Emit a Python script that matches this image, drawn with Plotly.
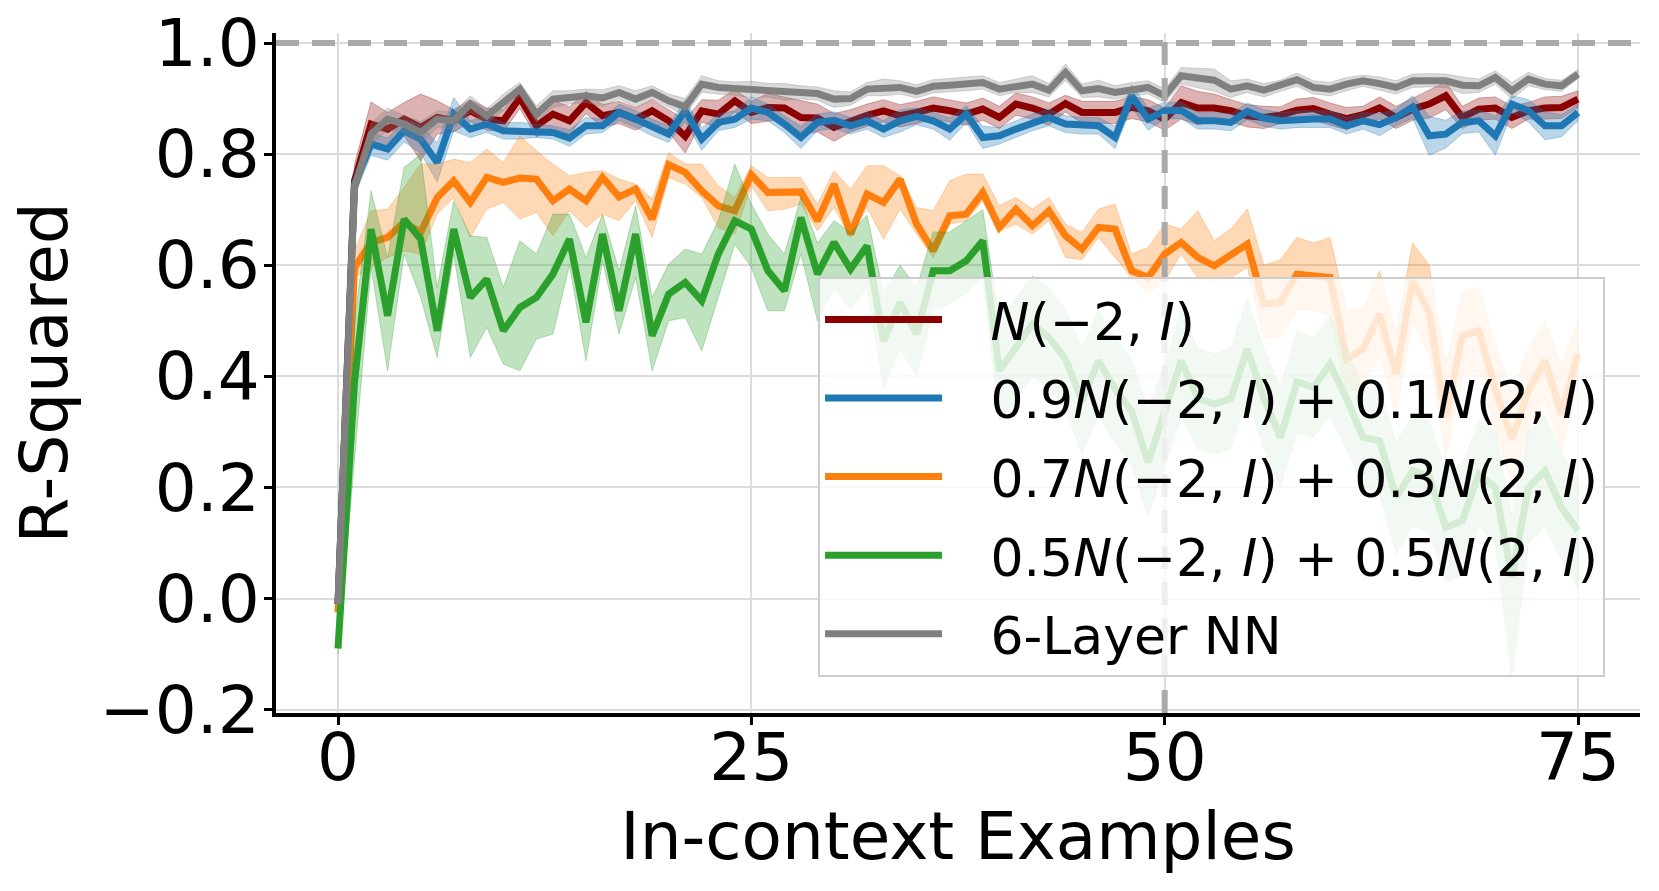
import plotly.graph_objects as go

x_vals = list(range(76))

nn_mean = [
    -0.01, 0.74, 0.836, 0.863, 0.854, 0.839, 0.863, 0.86, 0.89, 0.869,
    0.893, 0.917, 0.872, 0.899, 0.902, 0.905, 0.901, 0.911, 0.899, 0.911,
    0.896, 0.885, 0.926, 0.92, 0.918, 0.916, 0.915, 0.912, 0.911, 0.909,
    0.899, 0.9, 0.917, 0.92, 0.92, 0.913, 0.922, 0.924, 0.926, 0.929,
    0.917, 0.923, 0.926, 0.915, 0.947, 0.914, 0.918, 0.911, 0.917, 0.92,
    0.905, 0.941, 0.937, 0.933, 0.917, 0.923, 0.915, 0.923, 0.934, 0.92,
    0.917, 0.926, 0.932, 0.927, 0.92, 0.932, 0.933, 0.932, 0.924, 0.923,
    0.938, 0.914, 0.935, 0.926, 0.923, 0.944]
nn_err = [
    0.01, 0.02, 0.02, 0.02, 0.015, 0.02, 0.015, 0.015, 0.015, 0.012,
    0.015, 0.012, 0.015, 0.015, 0.012, 0.012, 0.015, 0.012, 0.015, 0.012,
    0.012, 0.015, 0.015, 0.012, 0.012, 0.015, 0.012, 0.015, 0.012, 0.012,
    0.015, 0.012, 0.012, 0.015, 0.012, 0.012, 0.012, 0.012, 0.012, 0.012,
    0.012, 0.012, 0.015, 0.012, 0.015, 0.012, 0.015, 0.012, 0.012, 0.012,
    0.012, 0.015, 0.018, 0.02, 0.015, 0.012, 0.012, 0.01, 0.012, 0.012,
    0.012, 0.012, 0.01, 0.012, 0.012, 0.012, 0.012, 0.012, 0.015, 0.012,
    0.012, 0.015, 0.012, 0.01, 0.01, 0.008]
nn_lower = [m - e for m, e in zip(nn_mean, nn_err)]
nn_upper = [m + e for m, e in zip(nn_mean, nn_err)]

g10_mean = [
    -0.01, 0.752, 0.854, 0.845, 0.863, 0.848, 0.866, 0.86, 0.878, 0.863,
    0.86, 0.902, 0.851, 0.872, 0.86, 0.893, 0.869, 0.875, 0.863, 0.878,
    0.86, 0.832, 0.878, 0.872, 0.896, 0.875, 0.884, 0.883, 0.866, 0.865,
    0.848, 0.86, 0.87, 0.878, 0.869, 0.875, 0.883, 0.878, 0.872, 0.881,
    0.866, 0.89, 0.883, 0.872, 0.891, 0.875, 0.875, 0.875, 0.884, 0.878,
    0.863, 0.893, 0.883, 0.883, 0.878, 0.869, 0.866, 0.87, 0.879, 0.882,
    0.872, 0.864, 0.871, 0.883, 0.866, 0.881, 0.89, 0.905, 0.866, 0.881,
    0.883, 0.866, 0.878, 0.883, 0.884, 0.899]
g10_err = [
    0.01, 0.03, 0.04, 0.03, 0.03, 0.06, 0.03, 0.02, 0.02, 0.02,
    0.02, 0.02, 0.02, 0.025, 0.025, 0.02, 0.02, 0.02, 0.02, 0.02,
    0.02, 0.03, 0.02, 0.025, 0.02, 0.02, 0.025, 0.02, 0.03, 0.025,
    0.025, 0.02, 0.02, 0.02, 0.02, 0.02, 0.02, 0.02, 0.02, 0.02,
    0.02, 0.02, 0.02, 0.02, 0.015, 0.02, 0.02, 0.02, 0.02, 0.02,
    0.02, 0.03, 0.03, 0.025, 0.02, 0.02, 0.02, 0.015, 0.02, 0.02,
    0.02, 0.02, 0.015, 0.02, 0.02, 0.02, 0.025, 0.025, 0.02, 0.02,
    0.02, 0.02, 0.015, 0.02, 0.02, 0.015]
g10_lower = [m - e for m, e in zip(g10_mean, g10_err)]
g10_upper = [m + e for m, e in zip(g10_mean, g10_err)]

g09_mean = [
    -0.01, 0.746, 0.818, 0.809, 0.842, 0.827, 0.785, 0.872, 0.845, 0.854,
    0.842, 0.842, 0.842, 0.839, 0.829, 0.851, 0.851, 0.875, 0.863, 0.848,
    0.836, 0.878, 0.827, 0.857, 0.863, 0.883, 0.875, 0.854, 0.83, 0.857,
    0.861, 0.851, 0.86, 0.845, 0.86, 0.868, 0.86, 0.845, 0.872, 0.83,
    0.833, 0.845, 0.857, 0.866, 0.854, 0.851, 0.851, 0.83, 0.905, 0.863,
    0.878, 0.879, 0.86, 0.86, 0.857, 0.877, 0.865, 0.86, 0.863, 0.863,
    0.863, 0.851, 0.86, 0.853, 0.866, 0.885, 0.833, 0.836, 0.857, 0.86,
    0.833, 0.89, 0.878, 0.851, 0.851, 0.875]
g09_err = [
    0.01, 0.02, 0.02, 0.02, 0.02, 0.025, 0.035, 0.03, 0.015, 0.015,
    0.015, 0.015, 0.012, 0.012, 0.015, 0.015, 0.012, 0.015, 0.015, 0.015,
    0.015, 0.02, 0.02, 0.015, 0.015, 0.02, 0.015, 0.015, 0.02, 0.015,
    0.015, 0.015, 0.015, 0.015, 0.02, 0.015, 0.015, 0.02, 0.015, 0.02,
    0.015, 0.015, 0.015, 0.015, 0.015, 0.015, 0.015, 0.02, 0.02, 0.02,
    0.015, 0.015, 0.015, 0.015, 0.015, 0.015, 0.015, 0.015, 0.015, 0.015,
    0.015, 0.015, 0.015, 0.02, 0.015, 0.02, 0.035, 0.025, 0.02, 0.02,
    0.035, 0.015, 0.02, 0.025, 0.02, 0.015]
g09_lower = [m - e for m, e in zip(g09_mean, g09_err)]
g09_upper = [m + e for m, e in zip(g09_mean, g09_err)]

g07_mean = [
    -0.025, 0.596, 0.641, 0.65, 0.677, 0.659, 0.722, 0.752, 0.713, 0.758,
    0.749, 0.757, 0.755, 0.716, 0.737, 0.716, 0.758, 0.723, 0.737, 0.683,
    0.781, 0.767, 0.734, 0.707, 0.698, 0.763, 0.731, 0.73, 0.732, 0.68,
    0.746, 0.656, 0.728, 0.713, 0.755, 0.674, 0.626, 0.689, 0.692, 0.731,
    0.668, 0.701, 0.671, 0.698, 0.653, 0.629, 0.668, 0.665, 0.59, 0.578,
    0.62, 0.641, 0.614, 0.599, 0.617, 0.638, 0.53, 0.533, 0.584, 0.581,
    0.578, 0.431, 0.449, 0.512, 0.404, 0.572, 0.515, 0.326, 0.473, 0.482,
    0.377, 0.287, 0.374, 0.428, 0.332, 0.44]
g07_upper = [
    -0.015, 0.626, 0.698, 0.701, 0.74, 0.782, 0.782, 0.791, 0.785, 0.809,
    0.785, 0.833, 0.806, 0.782, 0.761, 0.767, 0.77, 0.755, 0.746, 0.719,
    0.803, 0.782, 0.782, 0.743, 0.722, 0.779, 0.758, 0.758, 0.758, 0.71,
    0.77, 0.737, 0.779, 0.779, 0.761, 0.704, 0.698, 0.752, 0.764, 0.764,
    0.707, 0.722, 0.701, 0.722, 0.674, 0.659, 0.701, 0.71, 0.62, 0.632,
    0.674, 0.665, 0.698, 0.644, 0.665, 0.701, 0.6, 0.61, 0.65, 0.64,
    0.65, 0.52, 0.52, 0.59, 0.48, 0.64, 0.6, 0.42, 0.55, 0.56,
    0.46, 0.37, 0.45, 0.5, 0.42, 0.5]
g07_lower = [
    -0.035, 0.578, 0.596, 0.614, 0.626, 0.62, 0.692, 0.722, 0.65, 0.701,
    0.713, 0.683, 0.695, 0.653, 0.698, 0.668, 0.692, 0.68, 0.716, 0.65,
    0.758, 0.746, 0.722, 0.668, 0.656, 0.743, 0.698, 0.701, 0.71, 0.662,
    0.704, 0.65, 0.704, 0.647, 0.701, 0.656, 0.614, 0.674, 0.68, 0.716,
    0.662, 0.674, 0.656, 0.68, 0.614, 0.61, 0.65, 0.614, 0.578, 0.55,
    0.572, 0.62, 0.578, 0.572, 0.578, 0.596, 0.47, 0.47, 0.52, 0.52,
    0.51, 0.37, 0.38, 0.44, 0.33, 0.5, 0.44, 0.25, 0.4, 0.41,
    0.3, 0.21, 0.3, 0.36, 0.26, 0.38]

g05_mean = [
    -0.09, 0.39, 0.665, 0.509, 0.683, 0.647, 0.482, 0.665, 0.542, 0.575,
    0.482, 0.524, 0.542, 0.584, 0.647, 0.497, 0.656, 0.518, 0.656, 0.473,
    0.548, 0.569, 0.536, 0.62, 0.68, 0.665, 0.59, 0.554, 0.686, 0.584,
    0.641, 0.593, 0.635, 0.464, 0.533, 0.476, 0.59, 0.59, 0.608, 0.644,
    0.41, 0.452, 0.494, 0.47, 0.431, 0.356, 0.428, 0.377, 0.338, 0.245,
    0.332, 0.428, 0.36, 0.35, 0.36, 0.449, 0.36, 0.29, 0.39, 0.38,
    0.422, 0.36, 0.29, 0.284, 0.182, 0.23, 0.22, 0.128, 0.14, 0.224,
    0.2, 0.038, 0.2, 0.23, 0.164, 0.122]
g05_upper = [
    -0.08, 0.5, 0.734, 0.614, 0.776, 0.8, 0.56, 0.716, 0.653, 0.65,
    0.56, 0.644, 0.62, 0.692, 0.692, 0.614, 0.692, 0.59, 0.707, 0.542,
    0.602, 0.629, 0.62, 0.68, 0.782, 0.71, 0.656, 0.62, 0.722, 0.64,
    0.68, 0.66, 0.69, 0.55, 0.6, 0.56, 0.66, 0.66, 0.68, 0.7,
    0.5, 0.54, 0.58, 0.56, 0.52, 0.45, 0.52, 0.47, 0.43, 0.34,
    0.42, 0.52, 0.45, 0.44, 0.45, 0.54, 0.45, 0.38, 0.48, 0.47,
    0.51, 0.45, 0.38, 0.38, 0.28, 0.33, 0.32, 0.23, 0.24, 0.32,
    0.3, 0.15, 0.3, 0.33, 0.26, 0.22]
g05_lower = [
    -0.1, 0.25, 0.596, 0.41, 0.62, 0.542, 0.434, 0.62, 0.434, 0.488,
    0.422, 0.41, 0.467, 0.476, 0.6, 0.428, 0.608, 0.476, 0.578, 0.41,
    0.5, 0.506, 0.446, 0.542, 0.638, 0.596, 0.518, 0.518, 0.62, 0.5,
    0.56, 0.52, 0.56, 0.38, 0.45, 0.4, 0.52, 0.53, 0.55, 0.58,
    0.32, 0.36, 0.4, 0.38, 0.34, 0.26, 0.33, 0.28, 0.24, 0.15,
    0.24, 0.33, 0.27, 0.26, 0.27, 0.36, 0.27, 0.2, 0.3, 0.29,
    0.33, 0.27, 0.2, 0.19, 0.08, 0.13, 0.12, 0.03, 0.04, 0.13,
    0.1, -0.14, 0.1, 0.13, 0.07, 0.02]

series_labels = [
    "<i>N</i>(−2, <i>I</i>)",
    "0.9<i>N</i>(−2, <i>I</i>) + 0.1<i>N</i>(2, <i>I</i>)",
    "0.7<i>N</i>(−2, <i>I</i>) + 0.3<i>N</i>(2, <i>I</i>)",
    "0.5<i>N</i>(−2, <i>I</i>) + 0.5<i>N</i>(2, <i>I</i>)",
    "6-Layer NN",
]
series_means = [g10_mean, g09_mean, g07_mean, g05_mean, nn_mean]
series_lowers = [g10_lower, g09_lower, g07_lower, g05_lower, nn_lower]
series_uppers = [g10_upper, g09_upper, g07_upper, g05_upper, nn_upper]
series_colors = [(139, 0, 0), (31, 119, 180), (255, 127, 14), (44, 160, 44), (128, 128, 128)]

x_ticks = [0, 25, 50, 75]
y_ticks = [-0.2, 0.0, 0.2, 0.4, 0.6, 0.8, 1.0]

FONT = "DejaVu Sans"
PAD = "\u00a0\u00a0\u2009"
fig = go.Figure()

for k, (lab, m, lo, up, c) in enumerate(zip(series_labels, series_means, series_lowers,
                                            series_uppers, series_colors)):
    rgb = "rgb(%d,%d,%d)" % c
    rgba = "rgba(%d,%d,%d,0.3)" % c
    fig.add_trace(go.Scatter(
        x=x_vals + x_vals[::-1], y=list(up) + list(lo)[::-1],
        fill="toself", fillcolor=rgba, mode="lines",
        line=dict(color=rgba, width=1), showlegend=False, hoverinfo="skip",
        legendgroup="g%d" % k))
    fig.add_trace(go.Scatter(
        x=x_vals, y=m, mode="lines", name=PAD + lab,
        line=dict(color=rgb, width=7), legendgroup="g%d" % k))

fig.add_hline(y=1.0, line=dict(color="#a9a9a9", width=6, dash="23px,13px"), layer="above")
fig.add_vline(x=50, line=dict(color="#a9a9a9", width=6, dash="23px,13px"), layer="above")

axis_common = dict(
    showline=True, linecolor="black", linewidth=4, mirror=False,
    ticks="outside", ticklen=8, tickwidth=2.5, tickcolor="black",
    showgrid=True, gridcolor="#dcdcdc", gridwidth=1.5, zeroline=False,
    tickfont=dict(family=FONT, size=66, color="black"), automargin=False,
)

fig.update_xaxes(range=[-3.75, 78.75], tickvals=x_ticks, ticktext=[str(v) for v in x_ticks],
                 ticklabelstandoff=-24,
                 title=dict(text="In-context Examples", font=dict(family=FONT, size=66, color="black"), standoff=19),
                 **axis_common)
fig.update_yaxes(range=[-0.206, 1.018], tickvals=y_ticks, tickformat=".1f",
                 ticklabelstandoff=-9,
                 title=dict(text="R-Squared", font=dict(family=FONT, size=66, color="black"), standoff=11),
                 **axis_common)

fig.update_layout(
    width=1659, height=891,
    margin=dict(l=276, r=19, t=33, b=178),
    plot_bgcolor="white", paper_bgcolor="white",
    font=dict(family=FONT, color="black"),
    legend=dict(
        x=0.3974, y=0.641, xanchor="left", yanchor="top",
        bgcolor="rgba(255,255,255,0.8)", bordercolor="#cccccc", borderwidth=2,
        font=dict(family=FONT, size=52, color="black"),
        itemwidth=117, tracegroupgap=8, traceorder="grouped",
    ),
)

fig.write_html("out.html", config={"displayModeBar": False},
               post_script="document.body.style.margin='0px';")
